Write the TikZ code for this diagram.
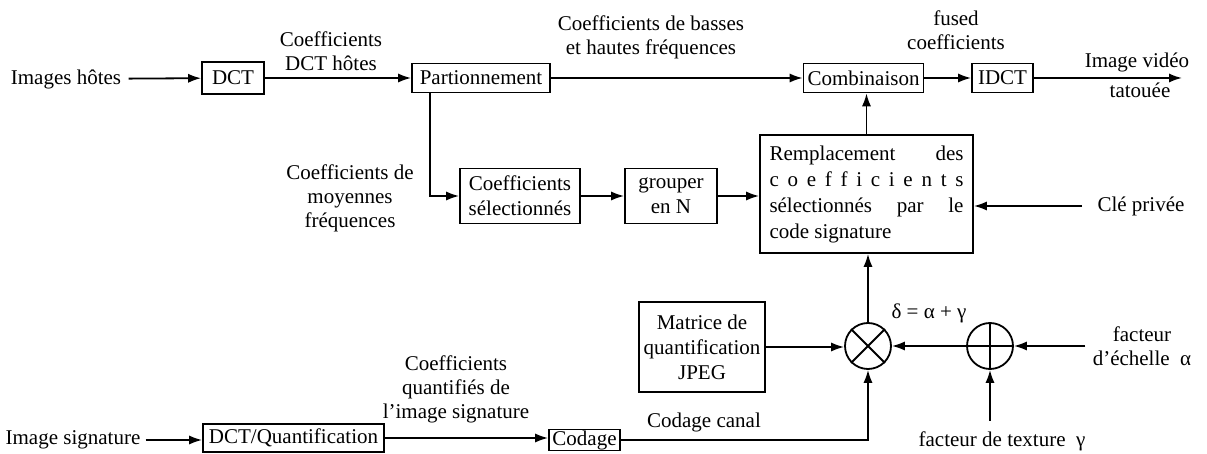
\documentclass[tikz,border=0pt]{standalone}
\usepackage{fontspec}
\setmainfont{Liberation Serif}
\usetikzlibrary{arrows.meta,calc}

\begin{document}
\begin{tikzpicture}[x=0.5pt,y=-0.5pt,
  every node/.style={font=\fontsize{10.5}{12}\selectfont},
  blk/.style={draw,line width=0.9pt,inner sep=0pt,align=center},
  lbl/.style={align=center,inner sep=0pt},
  flow/.style={line width=0.9pt,-{Latex[length=6.5pt,width=4.6pt]}},
  wire/.style={line width=0.9pt},
  opc/.style={draw,circle,line width=0.9pt,minimum size=23pt,inner sep=0pt}]
\useasboundingbox (0,0) rectangle (1207,454);

% --- host image path (top row) ---
\node[lbl,inner xsep=3.5pt] (hin) at (66,79) {Images hôtes};
\node[blk,minimum width=31pt,minimum height=16pt] (dct) at (233,78) {DCT};
\node[blk,minimum width=69pt,minimum height=14.5pt] (part) at (481,78) {Partionnement};
\node[blk,minimum width=60pt,minimum height=14.5pt] (comb) at (863.5,78) {Combinaison};
\node[blk,minimum width=30.5pt,minimum height=14.5pt] (idct) at (1002.5,78) {IDCT};
\coordinate (out) at (1182,78);
\node[lbl] (outa) at (1137,62) {Image vidéo};
\node[lbl] (outb) at (1140,90) {tatouée};

\node[lbl] (lhost) at (331,51) {Coefficients\\DCT hôtes};
\node[lbl] (lbh) at (651,37) {Coefficients de basses\\et hautes fréquences};
\node[lbl] (lfus) at (956,30) {fused\\coefficients};

% --- middle row ---
\node[lbl] (lmid) at (350,198) {Coefficients de\\moyennes\\fréquences};
\node[blk,minimum width=60pt,minimum height=27.5pt,
      font=\fontsize{10.5}{12.5}\selectfont] (sel) at (520,196) {Coefficients\\sélectionnés};
\node[blk,minimum width=46pt,minimum height=27.5pt,
      font=\fontsize{10.5}{12.5}\selectfont] (grp) at (671,196) {grouper\\en N};
\node[blk,minimum width=106.5pt,minimum height=59pt,align=left,
      font=\fontsize{10.5}{13}\selectfont] (rep) at (866.5,194)
  {\makebox[97pt][s]{Remplacement des}\\
   \makebox[97pt][s]{c\hfill o\hfill e\hfill f\hfill f\hfill i\hfill c\hfill i\hfill e\hfill n\hfill t\hfill s}\\
   \makebox[97pt][s]{sélectionnés par le}\\
   code signature};
\node[lbl,inner xsep=7.5pt] (cle) at (1141,206) {Clé privée};

% --- watermark strength ---
\node[blk,minimum width=63pt,minimum height=45pt,
      font=\fontsize{10.5}{12.5}\selectfont] (mat) at (702,347) {Matrice de\\quantification\\JPEG};
\node[opc] (mul) at (868,346) {};
\node[opc] (add) at (990,346) {};
\draw[wire] (mul.45) -- (mul.225) (mul.135) -- (mul.315);
\draw[wire] (add.north) -- (add.south) (add.west) -- (add.east);
\node[lbl] (delta) at (929,313) {δ = α + γ};
\node[lbl,inner xsep=3.5pt] (alp) at (1142,346) {facteur\\d'échelle~~α};
\node[lbl] (tex) at (1002,441) {facteur de texture~~γ};
\coordinate (texin) at (990,421);

% --- signature path (bottom row) ---
\node[lbl,inner xsep=2.5pt] (sin) at (73,440) {Image signature};
\node[blk,minimum width=90.5pt,minimum height=14pt] (dq) at (293.5,438) {DCT/Quantification};
\node[blk,minimum width=35.5pt,minimum height=10.5pt] (cod) at (584.5,440) {Codage};
\node[lbl] (lq) at (456,389) {Coefficients\\quantifiés de\\l'image signature};
\node[lbl] (lcan) at (704,422) {Codage canal};

% --- connectors ---
\draw[flow] (hin) -- (dct);
\draw[flow] (dct) -- (part);
\draw[flow] (part) -- (comb);
\draw[flow] (comb) -- (idct);
\draw[flow] (idct) -- (out);
\draw[flow] ([xshift=-25.5pt]part.south) |- (sel.west);
\draw[flow] (sel) -- (grp);
\draw[flow] (grp.east) -- (grp.east -| rep.west);
\draw[flow] (cle.west) -- (cle.west -| rep.east);
\draw[flow] (rep.north) -- (rep.north |- comb.south);
\draw[flow] (mul.north) -- (mul.north |- rep.south);
\draw[flow] (mat.east) -- (mat.east -| mul.west);
\draw[flow] (add) -- (mul);
\draw[flow] (alp.west) -- (alp.west -| add.east);
\draw[flow] (texin) -- (add.south);
\draw[flow] (sin.east) -- (sin.east -| dq.west);
\draw[flow] (dq.east) -- (dq.east -| cod.west);
\draw[flow] (cod.east) -| (mul.south);
\end{tikzpicture}
\end{document}
